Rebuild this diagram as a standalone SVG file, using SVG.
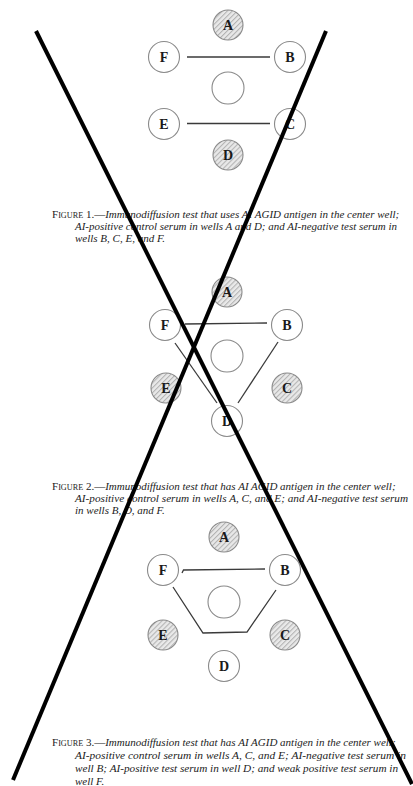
<svg xmlns="http://www.w3.org/2000/svg" width="413" height="786" viewBox="0 0 413 786">
<defs>
<pattern id="hatch" patternUnits="userSpaceOnUse" width="3.5" height="3.5" patternTransform="rotate(45)">
<rect width="3.5" height="3.5" fill="#e9e9e9"/>
<line x1="0.6" y1="0" x2="0.6" y2="3.5" stroke="#a8a8a8" stroke-width="0.9"/>
</pattern>
</defs>
<style>
.well{fill:#fff;stroke:#8a8a8a;stroke-width:1.1}
.pos{fill:url(#hatch);stroke:#8a8a8a;stroke-width:1.1}
.lbl{font-family:"Liberation Serif","Times New Roman",serif;font-weight:bold;font-size:14px;fill:#1a1a1a;text-anchor:middle}
.conn{fill:none;stroke:#3a3a3a;stroke-width:1.3}
.cap{font-family:"Liberation Serif","Times New Roman",serif;font-size:11px;fill:#222}
.it{font-style:italic}
.sc{font-size:8.2px}
.cross{stroke:#000;stroke-width:4;stroke-linecap:butt}
</style>
<rect width="413" height="786" fill="#fff"/>

<!-- Figure 1 -->
<g id="fig1">
<g id="f1-A"><circle class="pos" cx="228" cy="25" r="15"/><text class="lbl" x="228" y="30">A</text></g>
<g id="f1-F"><circle class="well" cx="164" cy="57" r="15.5"/><text class="lbl" x="164" y="62">F</text></g>
<g id="f1-B"><circle class="well" cx="290" cy="57" r="15.5"/><text class="lbl" x="290" y="62">B</text></g>
<g id="f1-center"><circle class="well" cx="228" cy="88" r="16"/></g>
<g id="f1-E"><circle class="well" cx="164" cy="124" r="15.5"/><text class="lbl" x="164" y="129">E</text></g>
<g id="f1-C"><circle class="well" cx="290" cy="124" r="15.5"/><text class="lbl" x="290" y="129">C</text></g>
<g id="f1-D"><circle class="pos" cx="228" cy="155" r="15"/><text class="lbl" x="228" y="160">D</text></g>
<g id="f1-connectors">
<line class="conn" x1="187" y1="57" x2="270" y2="57"/>
<line class="conn" x1="187" y1="123.5" x2="270" y2="123.5"/>
</g>
</g>
<text class="cap" x="52" y="218"><tspan>F</tspan><tspan class="sc">IGURE</tspan><tspan> 1.—</tspan><tspan class="it">Immunodiffusion test that uses AI AGID antigen in the center well;</tspan></text>
<text class="cap it" x="75" y="230" textLength="322" lengthAdjust="spacingAndGlyphs">AI-positive control serum in wells A and D; and AI-negative test serum in</text>
<text class="cap it" x="75" y="242">wells B, C, E, and F.</text>

<!-- Figure 2 -->
<g id="fig2">
<g id="f2-A"><circle class="pos" cx="227" cy="292" r="15"/><text class="lbl" x="227" y="297">A</text></g>
<g id="f2-F"><circle class="well" cx="165" cy="325" r="15.5"/><text class="lbl" x="165" y="330">F</text></g>
<g id="f2-B"><circle class="well" cx="287" cy="325" r="15.5"/><text class="lbl" x="287" y="330">B</text></g>
<g id="f2-center"><circle class="well" cx="227" cy="356" r="16"/></g>
<g id="f2-E"><circle class="pos" cx="166" cy="388" r="15"/><text class="lbl" x="166" y="393">E</text></g>
<g id="f2-C"><circle class="pos" cx="287" cy="388" r="15"/><text class="lbl" x="287" y="393">C</text></g>
<g id="f2-D"><circle class="well" cx="227" cy="421" r="15.5"/><text class="lbl" x="227" y="426">D</text></g>
<g id="f2-connectors">
<line class="conn" x1="185" y1="324" x2="267" y2="323"/>
<line class="conn" x1="175" y1="343" x2="217" y2="403"/>
<line class="conn" x1="278" y1="342" x2="238" y2="403"/>
</g>
</g>
<text class="cap" x="52" y="490"><tspan>F</tspan><tspan class="sc">IGURE</tspan><tspan> 2.—</tspan><tspan class="it">Immunodiffusion test that has AI AGID antigen in the center well;</tspan></text>
<text class="cap it" x="75" y="502" textLength="333" lengthAdjust="spacingAndGlyphs">AI-positive control serum in wells A, C, and E; and AI-negative test serum</text>
<text class="cap it" x="75" y="514">in wells B, D, and F.</text>

<!-- Figure 3 -->
<g id="fig3">
<g id="f3-A"><circle class="pos" cx="224" cy="537" r="15"/><text class="lbl" x="224" y="542">A</text></g>
<g id="f3-F"><circle class="well" cx="163" cy="570" r="15.5"/><text class="lbl" x="163" y="575">F</text></g>
<g id="f3-B"><circle class="well" cx="285" cy="570" r="15.5"/><text class="lbl" x="285" y="575">B</text></g>
<g id="f3-center"><circle class="well" cx="224" cy="602" r="16"/></g>
<g id="f3-E"><circle class="pos" cx="163" cy="635" r="15"/><text class="lbl" x="163" y="640">E</text></g>
<g id="f3-C"><circle class="pos" cx="285" cy="635" r="15"/><text class="lbl" x="285" y="640">C</text></g>
<g id="f3-D"><circle class="well" cx="224" cy="666" r="15.5"/><text class="lbl" x="224" y="671">D</text></g>
<g id="f3-connectors">
<polyline class="conn" points="182,573 183.5,570 265,569"/>
<polyline class="conn" points="173,587 203,633 247,632 276,590"/>
</g>
</g>
<text class="cap" x="52" y="746"><tspan>F</tspan><tspan class="sc">IGURE</tspan><tspan> 3.—</tspan><tspan class="it">Immunodiffusion test that has AI AGID antigen in the center well;</tspan></text>
<text class="cap it" x="75" y="759" textLength="331" lengthAdjust="spacingAndGlyphs">AI-positive control serum in wells A, C, and E; AI-negative test serum in</text>
<text class="cap it" x="75" y="772" textLength="323" lengthAdjust="spacingAndGlyphs">well B; AI-positive test serum in well D; and weak positive test serum in</text>
<text class="cap it" x="75" y="785">well F.</text>

<!-- Cross-out lines -->
<g id="cross">
<line class="cross" x1="36" y1="31" x2="412" y2="784"/>
<line class="cross" x1="326" y1="31" x2="13" y2="780"/>
</g>
</svg>
